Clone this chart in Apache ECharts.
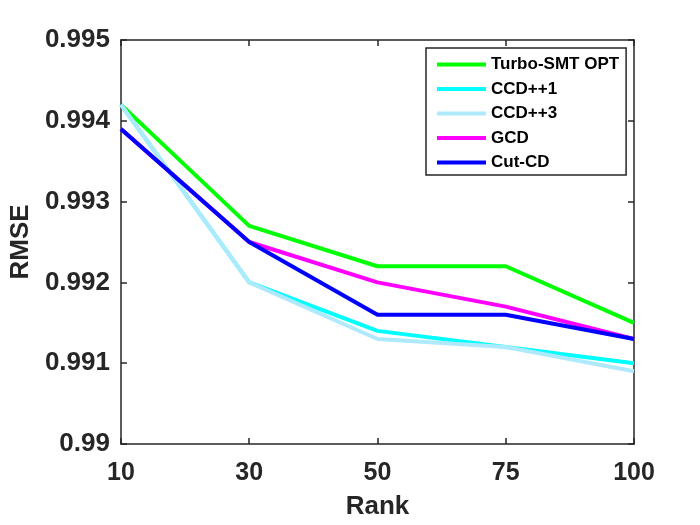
<!DOCTYPE html>
<html>
<head>
<meta charset="utf-8">
<script src="https://cdn.jsdelivr.net/npm/echarts@6/dist/echarts.min.js"></script>
<style>
  html, body { margin: 0; padding: 0; background: #fff; }
  #main { width: 700px; height: 525px; }
</style>
</head>
<body>
<div id="main"></div>
<script>
// rank values on the x axis
var ranks = ['10', '30', '50', '75', '100'];

// RMSE per method
var turboSmtOpt = [0.9942, 0.9927, 0.9922, 0.9922, 0.9915];
var ccd1 = [0.9942, 0.9920, 0.9914, 0.9912, 0.9910];
var ccd3 = [0.9942, 0.9920, 0.9913, 0.9912, 0.9909];
var gcd = [0.9939, 0.9925, 0.9920, 0.9917, 0.9913];
var cutCd = [0.9939, 0.9925, 0.9916, 0.9916, 0.9913];

var axisColor = '#262626';
var font = 'Liberation Sans, Arial, sans-serif';

function line(name, data, color) {
    return {
        name: name,
        type: 'line',
        data: data,
        symbol: 'none',
        lineStyle: { width: 4, color: color },
        itemStyle: { color: color }
    };
}

var myChart = echarts.init(document.getElementById('main'));
myChart.setOption({
    animation: false,
    backgroundColor: '#fff',
    grid: { left: 120, right: 66, top: 40, bottom: 81 },
    legend: {
        orient: 'vertical',
        left: 426,
        top: 48,
        padding: [8, 7, 4, 11],
        itemGap: 7.5,
        itemWidth: 49,
        itemHeight: 4,
        icon: 'rect',
        backgroundColor: '#fff',
        borderColor: axisColor,
        borderWidth: 1.5,
        textStyle: { fontFamily: font, fontWeight: 'bold', fontSize: 17, color: '#000' },
        data: ['Turbo-SMT OPT', 'CCD++1', 'CCD++3', 'GCD', 'Cut-CD']
    },
    xAxis: [{
        type: 'category',
        data: ranks,
        boundaryGap: false,
        name: 'Rank',
        nameLocation: 'middle',
        nameGap: 50,
        nameTextStyle: { fontFamily: font, fontWeight: 'bold', fontSize: 26, color: axisColor },
        axisLine: { lineStyle: { color: axisColor, width: 1.5 } },
        axisTick: { inside: true, length: 6, alignWithLabel: true, lineStyle: { color: axisColor, width: 1.5 } },
        axisLabel: { fontFamily: font, fontWeight: 'bold', fontSize: 25, color: axisColor, margin: 17 },
        splitLine: { show: false }
    }, {
        type: 'category',
        data: ranks,
        boundaryGap: false,
        position: 'top',
        axisLine: { lineStyle: { color: axisColor, width: 1.5 } },
        axisTick: { inside: true, length: 6, lineStyle: { color: axisColor, width: 1.5 } },
        axisLabel: { show: false },
        splitLine: { show: false }
    }],
    yAxis: [{
        type: 'value',
        min: 0.990,
        max: 0.995,
        interval: 0.001,
        name: 'RMSE',
        nameLocation: 'middle',
        nameGap: 83,
        nameTextStyle: { fontFamily: font, fontWeight: 'bold', fontSize: 26, color: axisColor },
        axisLine: { show: true, lineStyle: { color: axisColor, width: 1.5 } },
        axisTick: { show: true, inside: true, length: 6, lineStyle: { color: axisColor, width: 1.5 } },
        axisLabel: {
            fontFamily: font, fontWeight: 'bold', fontSize: 26, color: axisColor, margin: 11,
            formatter: function (v) { return String(parseFloat(v.toFixed(3))); }
        },
        splitLine: { show: false }
    }, {
        type: 'value',
        min: 0.990,
        max: 0.995,
        interval: 0.001,
        position: 'right',
        axisLine: { show: true, lineStyle: { color: axisColor, width: 1.5 } },
        axisTick: { show: true, inside: true, length: 6, lineStyle: { color: axisColor, width: 1.5 } },
        axisLabel: { show: false },
        splitLine: { show: false }
    }],
    series: [
        line('Turbo-SMT OPT', turboSmtOpt, '#00ff00'),
        line('CCD++1', ccd1, '#00ffff'),
        line('CCD++3', ccd3, '#aeeafc'),
        line('GCD', gcd, '#ff00ff'),
        line('Cut-CD', cutCd, '#0000ff')
    ]
});
</script>
</body>
</html>
